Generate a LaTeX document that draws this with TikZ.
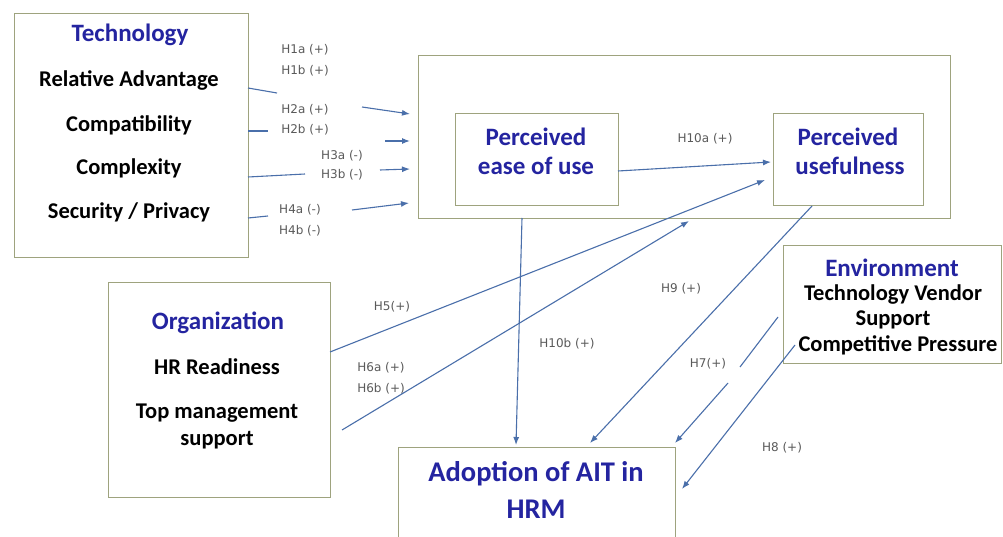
\documentclass[tikz,border=0pt]{standalone}
\usepackage{fontspec}
\setmainfont{Carlito}
\newfontfamily\labfont{DejaVu Sans}
\usetikzlibrary{arrows.meta}
\definecolor{boxc}{HTML}{9EA37E}
\definecolor{arr}{HTML}{4A6FAA}
\definecolor{ttl}{HTML}{2424A0}
\definecolor{labc}{HTML}{5A5A5A}
\begin{document}
\begin{tikzpicture}[x=1pt,y=-1pt,
  box/.style={draw=boxc, line width=1.3pt, inner sep=0pt, anchor=north west},
  ttext/.style={font=\fontsize{25}{29}\selectfont\bfseries, text=ttl, inner sep=0pt},
  btext/.style={font=\fontsize{22.5}{26}\selectfont\bfseries, text=black, inner sep=0pt},
  hlab/.style={font=\labfont\fontsize{12}{14}\selectfont, text=labc, inner sep=0pt},
  conn/.style={draw=arr, line width=1.1pt},
  arrw/.style={conn, -{Latex[length=8pt,width=6pt]}}
]
\useasboundingbox (0,0) rectangle (1003,537);
\fill[white] (0,0) rectangle (1003,537);

% boxes
\node[box, minimum width=234pt, minimum height=244pt] (tech) at (14,13) {};
\node[box, minimum width=532pt, minimum height=163pt] (outer) at (418,55) {};
\node[box, minimum width=163pt, minimum height=92pt] (peou) at (455,113) {};
\node[box, minimum width=150pt, minimum height=92pt] (pu) at (773,113) {};
\node[box, minimum width=218pt, minimum height=118pt] (env) at (783,245) {};
\node[box, minimum width=222pt, minimum height=215pt] (org) at (108,282) {};
\node[box, minimum width=277pt, minimum height=100pt] (adopt) at (398,447) {};

% texts
\node[ttext] (tTech) at (130,35) {Technology};
\node[btext] (tRA) at (129,80) {Relative Advantage};
\node[btext] (tCo) at (129,125) {Compatibility};
\node[btext] (tCx) at (129,168) {Complexity};
\node[btext] (tSP) at (129,212) {Security / Privacy};
\node[ttext] (tOrg) at (218,323) {Organization};
\node[btext] (tHR) at (217,367) {HR Readiness};
\node[btext] (tTM) at (217,413) {Top management};
\node[btext] (tSu) at (217,440) {support};
\node[ttext] (tEnv) at (892,268) {Environment};
\node[btext] (tTV) at (893,295) {Technology Vendor};
\node[btext] (tS2) at (893,320) {Support};
\node[btext] (tCP) at (898,345) {Competitive Pressure};
\node[ttext] (tP1) at (536,137) {Perceived};
\node[ttext] (tE1) at (536,166) {ease of use};
\node[ttext] (tP2) at (848,137) {Perceived};
\node[ttext] (tU2) at (850,166) {usefulness};
\node[ttext, font=\fontsize{28.5}{32}\selectfont\bfseries] (tAd) at (536,474) {Adoption of AIT in};
\node[ttext, font=\fontsize{28.5}{32}\selectfont\bfseries] (tHRM) at (536,509) {HRM};

% labels
\node[hlab] (l1a) at (305,50) {H1a (+)};
\node[hlab] (l1b) at (305,71) {H1b (+)};
\node[hlab] (l2a) at (305,110) {H2a (+)};
\node[hlab] (l2b) at (305,130) {H2b (+)};
\node[hlab] (l3a) at (342,156) {H3a (-)};
\node[hlab] (l3b) at (342,175) {H3b (-)};
\node[hlab] (l4a) at (300,210) {H4a (-)};
\node[hlab] (l4b) at (300,231) {H4b (-)};
\node[hlab] (l10a) at (705,139) {H10a (+)};
\node[hlab] (l5) at (392,307) {H5(+)};
\node[hlab] (l6a) at (381,368) {H6a (+)};
\node[hlab] (l6b) at (381,389) {H6b (+)};
\node[hlab] (l10b) at (567,344) {H10b (+)};
\node[hlab] (l9) at (681,289) {H9 (+)};
\node[hlab] (l7) at (708,364) {H7(+)};
\node[hlab] (l8) at (782,448) {H8 (+)};

% connector coordinates
\coordinate (a1) at (248,88);  \coordinate (b1) at (277,93);
\coordinate (c1) at (362,107); \coordinate (d1) at (410,114);
\coordinate (a2) at (248,131); \coordinate (b2) at (268,131);
\coordinate (c2) at (385,141); \coordinate (d2) at (410,141);
\coordinate (a3) at (248,177); \coordinate (b3) at (305,174);
\coordinate (c3) at (380,170); \coordinate (d3) at (410,169);
\coordinate (a4) at (248,218); \coordinate (b4) at (268,216);
\coordinate (c4) at (352,210); \coordinate (d4) at (409,203);
\coordinate (p10a) at (618,171); \coordinate (q10a) at (771,162);
\coordinate (p10b) at (522,218); \coordinate (q10b) at (516,445);
\coordinate (p9) at (812,206);   \coordinate (q9) at (590,443);
\coordinate (p5) at (330,352);   \coordinate (q5) at (765,180);
\coordinate (p6) at (342,430);   \coordinate (q6) at (689,221);
\coordinate (p7) at (778,317);   \coordinate (r7) at (740,367);
\coordinate (s7) at (728,383);   \coordinate (q7) at (675,443);
\coordinate (p8) at (795,345);   \coordinate (q8) at (682,489);

\draw[conn] (a1) -- (b1);  \draw[arrw] (c1) -- (d1);
\draw[conn] (a2) -- (b2);  \draw[arrw] (c2) -- (d2);
\draw[conn] (a3) -- (b3);  \draw[arrw] (c3) -- (d3);
\draw[conn] (a4) -- (b4);  \draw[arrw] (c4) -- (d4);
\draw[arrw] (p10a) -- (q10a);
\draw[arrw] (p10b) -- (q10b);
\draw[arrw] (p9) -- (q9);
\draw[arrw] (p5) -- (q5);
\draw[arrw] (p6) -- (q6);
\draw[conn] (p7) -- (r7);  \draw[arrw] (s7) -- (q7);
\draw[arrw] (p8) -- (q8);
\end{tikzpicture}
\end{document}
